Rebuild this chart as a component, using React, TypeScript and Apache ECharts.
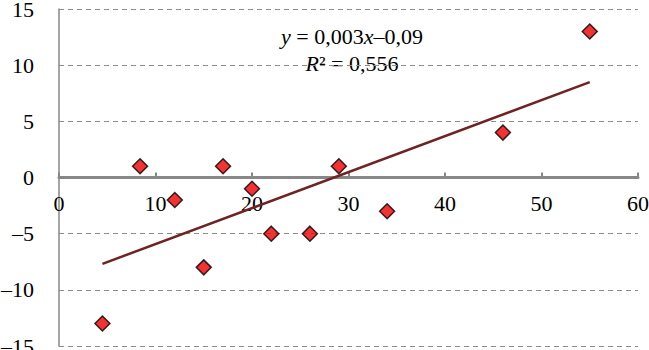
import React, { useEffect, useRef } from "react";
import * as echarts from "echarts";

const xValues = [4.5, 8.4, 12, 15, 17, 20, 22, 26, 29, 34, 46, 55];
const yValues = [-13, 1, -2, -8, 1, -1, -5, -5, 1, -3, 4, 13];
const xTicks = { min: 0, max: 60, interval: 10 };
const yTicks = { min: -15, max: 15, interval: 5 };
const equationText = "{i|y} = 0,003{i|x}–0,09";
const r2Text = "{i|R}² = 0,556";

function regression(xs: number[], ys: number[]) {
  const n = xs.length;
  const mx = xs.reduce((a, b) => a + b, 0) / n;
  const my = ys.reduce((a, b) => a + b, 0) / n;
  let sxy = 0;
  let sxx = 0;
  for (let i = 0; i < n; i++) {
    sxy += (xs[i] - mx) * (ys[i] - my);
    sxx += (xs[i] - mx) * (xs[i] - mx);
  }
  const slope = sxy / sxx;
  return { slope, intercept: my - slope * mx };
}

export default function App() {
  const ref = useRef<HTMLDivElement>(null);
  useEffect(() => {
    if (!ref.current) return;
    const chart = echarts.init(ref.current, undefined, { renderer: "svg" });
    const font = "Liberation Serif";
    const { slope, intercept } = regression(xValues, yValues);
    const xMin = Math.min(...xValues);
    const xMax = Math.max(...xValues);
    const trend = [
      [xMin, slope * xMin + intercept],
      [xMax, slope * xMax + intercept],
    ];
    const axisGray = "#878787";
    const gridTop = 9;
    const gridBottom = 4;
    const plotH = 350 - gridTop - gridBottom;
    const zeroOffset = -plotH * ((0 - yTicks.min) / (yTicks.max - yTicks.min));
    chart.setOption({
      animation: false,
      backgroundColor: "#ffffff",
      textStyle: { fontFamily: font },
      grid: { left: 59, right: 11, top: gridTop, bottom: gridBottom, containLabel: false, outerBoundsMode: "none" },
      xAxis: {
        type: "value",
        position: "bottom",
        offset: zeroOffset,
        min: xTicks.min,
        max: xTicks.max,
        interval: xTicks.interval,
        axisLine: { show: true, onZero: false, lineStyle: { color: axisGray, width: 3 } },
        axisTick: { show: true, inside: true, length: 5, lineStyle: { color: axisGray, width: 2 } },
        axisLabel: { fontFamily: font, fontSize: 22, color: "#000", margin: 15 },
        splitLine: { show: false },
      },
      yAxis: {
        type: "value",
        min: yTicks.min,
        max: yTicks.max,
        interval: yTicks.interval,
        axisLine: { show: true, onZero: false, lineStyle: { color: axisGray, width: 1.5 } },
        axisTick: { show: false },
        axisLabel: {
          fontFamily: font,
          fontSize: 22,
          color: "#000",
          margin: 25,
          formatter: (v: number) => String(v).replace("-", "–"),
        },
        splitLine: { show: true, lineStyle: { color: "#8c8c8c", width: 1.2, type: [5, 4] } },
      },
      series: [
        {
          type: "line",
          data: trend,
          showSymbol: false,
          symbol: "none",
          lineStyle: { color: "#6e2424", width: 2.5 },
          z: 2,
        },
        {
          type: "scatter",
          data: xValues.map((x, i) => [x, yValues[i]]),
          symbol: "diamond",
          symbolSize: 15,
          itemStyle: { color: "#f00000", borderColor: "#000", borderWidth: 1.5 },
          z: 3,
        },
      ],
      graphic: [
        {
          type: "text",
          x: 352,
          y: 36,
          style: {
            text: equationText,
            fontFamily: font,
            fontSize: 22,
            fill: "#000",
            align: "center",
            verticalAlign: "middle",
            rich: { i: { fontFamily: font, fontSize: 22, fontStyle: "italic", fill: "#000" } },
          },
        },
        {
          type: "text",
          x: 352,
          y: 63,
          style: {
            text: r2Text,
            fontFamily: font,
            fontSize: 22,
            fill: "#000",
            align: "center",
            verticalAlign: "middle",
            rich: { i: { fontFamily: font, fontSize: 22, fontStyle: "italic", fill: "#000" } },
          },
        },
      ],
    });
    return () => chart.dispose();
  }, []);
  return <div ref={ref} style={{ width: 649, height: 350, position: "absolute", left: 0, top: 0 }} />;
}
